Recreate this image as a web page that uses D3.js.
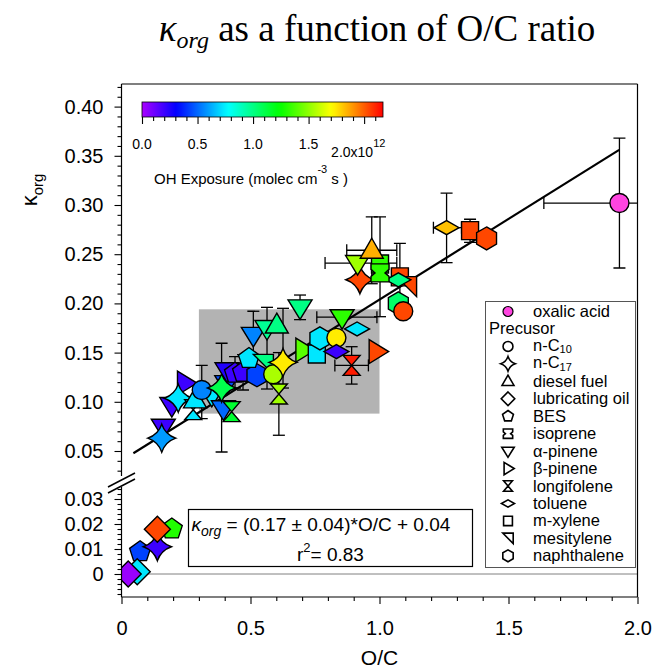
<!DOCTYPE html>
<html>
<head>
<meta charset="utf-8">
<script src="https://cdn.jsdelivr.net/npm/d3@7/dist/d3.min.js"></script>
<style>
html,body{margin:0;padding:0;background:#fff;}
svg{display:block;}
text{font-family:"Liberation Sans",Arial,sans-serif;fill:#000;}
</style>
</head>
<body>
<svg id="chart" width="658" height="670"></svg>
<script>
// ---------------- data ----------------
const precursorNames = ["n-C10","n-C17","diesel fuel","lubricating oil","BES","isoprene",
  "α-pinene","β-pinene","longifolene","toluene","m-xylene","mesitylene","naphthalene"];

// points, in drawing order
const pointPrecursor = [
  "BES","BES","n-C17","lubricating oil","lubricating oil","lubricating oil",
  "α-pinene","n-C17","α-pinene","β-pinene","n-C17","longifolene","diesel fuel","α-pinene",
  "n-C10","α-pinene","longifolene","α-pinene","n-C17","α-pinene","BES","BES","naphthalene",
  "BES","mesitylene","n-C10","longifolene","n-C17","α-pinene","α-pinene","diesel fuel",
  "α-pinene","β-pinene","m-xylene","naphthalene","n-C10","toluene","toluene","α-pinene",
  "β-pinene","longifolene","naphthalene","n-C10","m-xylene","mesitylene","toluene","n-C17",
  "m-xylene","isoprene","α-pinene","diesel fuel","toluene","m-xylene","naphthalene"];
const pointOC = [
  0.195,0.072,0.139,0.139,0.061,0.026,
  0.162,0.156,0.195,0.246,0.220,0.278,0.285,0.350,
  0.311,0.395,0.427,0.408,0.388,0.409,0.440,0.471,0.525,
  0.494,0.550,0.588,0.610,0.626,0.511,0.564,0.602,
  0.692,0.705,0.757,0.769,0.833,0.833,0.913,0.855,
  0.989,0.892,1.073,1.092,1.079,1.105,1.073,0.924,
  1.002,1.002,0.915,0.970,1.260,1.351,1.415];
const pointKappa = [
  0.018,0.0089,0.0109,0.0179,0.0009,0.0,
  0.0747,0.063,0.0967,0.119,0.1036,0.092,0.102,0.107,
  0.112,0.0934,0.090,0.119,0.114,0.132,0.129,0.130,0.127,
  0.144,0.138,0.128,0.108,0.140,0.168,0.175,0.178,
  0.196,0.1526,0.1486,0.1645,0.165,0.151,0.174,0.186,
  0.151,0.137,0.200,0.192,0.227,0.217,0.224,0.224,
  0.240,0.231,0.241,0.254,0.277,0.274,0.266];
// OH exposure (x 1e12 molec cm-3 s)
const pointOH = [
  1.30,0.43,0.20,2.04,0.73,0.03,
  0.20,0.59,0.20,0.20,0.73,0.73,0.73,0.73,
  0.55,0.50,1.15,0.45,1.10,0.25,0.20,0.20,0.43,
  0.73,1.00,1.55,1.53,1.74,0.55,0.97,1.00,
  1.00,1.40,0.73,0.73,1.74,0.20,0.73,1.32,
  2.04,2.12,1.05,2.04,2.04,2.04,1.00,2.04,
  1.32,1.32,1.53,1.85,1.82,2.04,2.04];
const N = null;
const kappaErrLow = [
  N,N,N,N,N,N,
  N,N,N,N,N,N,N,N,
  0.083,N,N,N,0.049,N,0.114,0.112,N,
  N,N,N,0.066,0.114,0.144,0.113,N,
  0.1835,N,N,N,N,N,N,N,
  N,0.118,N,N,0.193,N,N,N,
  0.1865,N,N,0.220,0.2414,0.262,N];
const kappaErrHigh = [
  N,N,N,N,N,N,
  N,N,N,N,N,N,N,N,
  0.137,N,N,N,0.1595,N,0.146,0.148,N,
  N,N,N,0.150,0.195,0.192,0.196,N,
  0.2085,N,N,N,N,N,N,N,
  N,0.156,N,N,0.261,N,N,N,
  0.288,N,N,0.288,0.312,0.2855,N];
const ocErrLow = [
  N,N,N,N,N,N,
  N,N,N,N,N,N,N,N,
  N,N,N,N,N,N,N,N,N,
  N,N,N,N,N,N,N,N,
  N,N,N,N,N,N,N,0.757,
  N,0.827,N,N,N,N,N,N,
  N,N,0.789,0.873,1.209,N,N];
const ocErrHigh = [
  N,N,N,N,N,N,
  N,N,N,N,N,N,N,N,
  N,N,N,N,N,N,N,N,N,
  N,N,N,N,N,N,N,N,
  N,N,N,N,N,N,N,0.990,
  N,0.957,N,N,N,N,N,N,
  N,N,1.067,1.067,1.318,N,N];

// oxalic acid
const oxalicOC = [1.930];
const oxalicKappa = [0.302];
const oxalicKappaErr = [[0.236, 0.368]];
const oxalicOCErr = [[1.637, 2.223]];

// regression line end points
const fitOC = [0.046, 1.929];
const fitKappa = [0.0477, 0.356];

// shaded region
const boxOC = [0.3, 1.0];
const boxKappa = [0.088, 0.194];

// axes ticks
const xTicks = [0, 0.5, 1.0, 1.5, 2.0];
const xTickLabels = ["0","0.5","1.0","1.5","2.0"];
const yUpperTicks = [0.05,0.10,0.15,0.20,0.25,0.30,0.35,0.40];
const yUpperLabels = ["0.05","0.10","0.15","0.20","0.25","0.30","0.35","0.40"];
const yLowerTicks = [0, 0.01, 0.02, 0.03];
const yLowerLabels = ["0","0.01","0.02","0.03"];
const cbTicks = [0, 0.5, 1.0, 1.5, 2.0];
const cbTickLabels = ["0.0","0.5","1.0","1.5","2.0x10"];
const cbMax = 2.17;

// ---------------- drawing ----------------
const svg = d3.select("#chart");
const x = d3.scaleLinear().domain([0, 2]).range([121.5, 637.5]);
const yUp = d3.scaleLinear().domain([0.05, 0.40]).range([451, 106.6]);
const yLo = d3.scaleLinear().domain([0, 0.03]).range([574, 499]);
const y = k => (k >= 0.04 ? yUp(k) : yLo(k));
const frame = {l: 121.5, r: 637.5, t: 84, b: 597};

const colorOf = v => d3.hsl(280 * (1 - Math.min(1, Math.max(0, v / cbMax))), 1, 0.5).formatHex();

function poly(pts, s) {
  return "M" + pts.map(p => (p[0]*s).toFixed(2) + "," + (p[1]*s).toFixed(2)).join("L") + "Z";
}
function regPoly(n, r, rot) {
  return d3.range(n).map(i => {
    const a = rot + i * 2 * Math.PI / n;
    return [r * Math.cos(a), r * Math.sin(a)];
  });
}
function markerPath(name, s) {
  switch (name) {
    case "n-C10": { const r = 9.5*s; return `M${-r},0A${r},${r} 0 1,0 ${r},0A${r},${r} 0 1,0 ${-r},0Z`; }
    case "n-C17": { const R = 14*s, c = 3.6*s;
      return `M0,${-R}Q${c},${-c} ${R},0Q${c},${c} 0,${R}Q${-c},${c} ${-R},0Q${-c},${-c} 0,${-R}Z`; }
    case "diesel fuel": return poly([[0,-12],[11.5,8],[-11.5,8]], s);
    case "lubricating oil": return poly([[0,-13],[13,0],[0,13],[-13,0]], s);
    case "BES": return poly(regPoly(5, 11, -Math.PI/2), s);
    case "isoprene": return poly([[-9,-9],[9,-9],[9,-3.5],[5,0],[9,3.5],[9,9],[-9,9],[-9,3.5],[-5,0],[-9,-3.5]], s);
    case "α-pinene": return poly([[-12,-7.5],[12,-7.5],[0,12]], s);
    case "β-pinene": return poly([[-7.5,-12],[12,0],[-7.5,12]], s);
    case "longifolene": return poly([[-8.5,-10],[8.5,-10],[0,0],[8.5,10],[-8.5,10],[0,0]], s);
    case "toluene": return poly([[-12.5,0],[0,-7],[12.5,0],[0,7]], s);
    case "m-xylene": return poly([[-8.5,-9],[8.5,-9],[8.5,9],[-8.5,9]], s);
    case "mesitylene": return poly([[-10,-10],[10,-10],[10,10]], s);
    case "naphthalene": return poly(regPoly(6, 11.5, -Math.PI/2), s);
  }
  return "";
}

// title
const title = svg.append("text").attr("x", 377).attr("y", 41).attr("text-anchor", "middle")
  .style("font-family", '"Liberation Serif","Times New Roman",serif').style("font-size", "37px");
title.append("tspan").style("font-style", "italic").text("κ");
title.append("tspan").style("font-style", "italic").style("font-size", "24px").attr("dy", 7).text("org");
title.append("tspan").attr("dy", -7).text(" as a function of O/C ratio");

// clip
svg.append("defs").append("clipPath").attr("id", "plotclip").append("rect")
  .attr("x", frame.l).attr("y", frame.t).attr("width", frame.r - frame.l).attr("height", frame.b - frame.t);
const plot = svg.append("g").attr("clip-path", "url(#plotclip)");

// shaded box
plot.append("rect")
  .attr("x", x(boxOC[0])).attr("y", y(boxKappa[1]))
  .attr("width", x(boxOC[1]) - x(boxOC[0])).attr("height", y(boxKappa[0]) - y(boxKappa[1]))
  .attr("fill", "#b3b3b3");

// zero line
plot.append("line").attr("x1", frame.l).attr("x2", frame.r).attr("y1", y(0)).attr("y2", y(0))
  .attr("stroke", "#808080").attr("stroke-width", 1);

// fit line
plot.append("line")
  .attr("x1", x(fitOC[0])).attr("y1", y(fitKappa[0]))
  .attr("x2", x(fitOC[1])).attr("y2", y(fitKappa[1]))
  .attr("stroke", "#000").attr("stroke-width", 2.2);

// error bars
const eb = plot.append("g").attr("stroke", "#000").attr("stroke-width", 1.3).attr("fill", "none");
const cap = 6;
function vErr(ox, lo, hi) {
  const px = x(ox);
  eb.append("line").attr("x1", px).attr("x2", px).attr("y1", y(lo)).attr("y2", y(hi));
  [lo, hi].forEach(v => eb.append("line").attr("x1", px - cap).attr("x2", px + cap).attr("y1", y(v)).attr("y2", y(v)));
}
function hErr(ky, lo, hi) {
  const py = y(ky);
  eb.append("line").attr("x1", x(lo)).attr("x2", x(hi)).attr("y1", py).attr("y2", py);
  [lo, hi].forEach(v => eb.append("line").attr("x1", x(v)).attr("x2", x(v)).attr("y1", py - cap).attr("y2", py + cap));
}
pointOC.forEach((oc, i) => {
  if (kappaErrLow[i] !== null) vErr(oc, kappaErrLow[i], kappaErrHigh[i]);
  if (ocErrLow[i] !== null) hErr(pointKappa[i], ocErrLow[i], ocErrHigh[i]);
});
vErr(oxalicOC[0], oxalicKappaErr[0][0], oxalicKappaErr[0][1]);
hErr(oxalicKappa[0], oxalicOCErr[0][0], oxalicOCErr[0][1]);

// markers
plot.append("g").selectAll("path").data(pointOC).join("path")
  .attr("d", (d, i) => markerPath(pointPrecursor[i], 1))
  .attr("transform", (d, i) => `translate(${x(d)},${y(pointKappa[i])})`)
  .attr("fill", (d, i) => colorOf(pointOH[i]))
  .attr("stroke", "#000").attr("stroke-width", 1.4).attr("stroke-linejoin", "miter");

plot.append("circle").attr("cx", x(oxalicOC[0])).attr("cy", y(oxalicKappa[0])).attr("r", 9.5)
  .attr("fill", "#ff44e0").attr("stroke", "#000").attr("stroke-width", 1.4);

// frame
const fr = svg.append("g").attr("stroke", "#000").attr("stroke-width", 1.2);
fr.append("line").attr("x1", frame.l).attr("x2", frame.r).attr("y1", frame.t).attr("y2", frame.t);
fr.append("line").attr("x1", frame.r).attr("x2", frame.r).attr("y1", frame.t).attr("y2", frame.b);
fr.append("line").attr("x1", frame.l).attr("x2", frame.r).attr("y1", frame.b).attr("y2", frame.b);
fr.append("line").attr("x1", frame.l).attr("x2", frame.l).attr("y1", frame.t).attr("y2", 476);
fr.append("line").attr("x1", frame.l).attr("x2", frame.l).attr("y1", 487).attr("y2", frame.b);
// axis break marks
fr.append("line").attr("x1", 108).attr("y1", 493).attr("x2", 135).attr("y2", 479).attr("stroke-width", 1.5);
fr.append("line").attr("x1", 108).attr("y1", 487).attr("x2", 135).attr("y2", 473).attr("stroke-width", 1.5);

function styleAxis(g, fs) {
  g.select(".domain").remove();
  g.selectAll("line").attr("stroke", "#000").attr("stroke-width", 1.1);
  g.selectAll("text").style("font-size", fs + "px").style("font-family", '"Liberation Sans",Arial,sans-serif');
}

// x axis
const xMajor = svg.append("g").attr("transform", `translate(0,${frame.b})`)
  .call(d3.axisBottom(x).tickValues(xTicks).tickSize(7).tickPadding(17)
    .tickFormat((d, i) => xTickLabels[i]));
styleAxis(xMajor, 20);
const xMinor = svg.append("g").attr("transform", `translate(0,${frame.b})`)
  .call(d3.axisBottom(x).tickValues(d3.range(0.1, 2.0, 0.1).filter(v => Math.abs(v*2 - Math.round(v*2)) > 1e-6)).tickSize(4).tickFormat(""));
styleAxis(xMinor, 10);

// y axis upper
const yUMajor = svg.append("g").attr("transform", `translate(${frame.l},0)`)
  .call(d3.axisLeft(yUp).tickValues(yUpperTicks).tickSize(7).tickPadding(11)
    .tickFormat((d, i) => yUpperLabels[i]));
styleAxis(yUMajor, 20);
const yUMinor = svg.append("g").attr("transform", `translate(${frame.l},0)`)
  .call(d3.axisLeft(yUp).tickValues(d3.range(3, 43).map(v => v / 100).filter(v => Math.round(v*100) % 5 !== 0)).tickSize(4).tickFormat(""));
styleAxis(yUMinor, 10);

// y axis lower
const yLMajor = svg.append("g").attr("transform", `translate(${frame.l},0)`)
  .call(d3.axisLeft(yLo).tickValues(yLowerTicks).tickSize(7).tickPadding(11)
    .tickFormat((d, i) => yLowerLabels[i]));
styleAxis(yLMajor, 20);
const yLMinor = svg.append("g").attr("transform", `translate(${frame.l},0)`)
  .call(d3.axisLeft(yLo).tickValues(d3.range(-4, 18).map(v => v / 500).filter(v => Math.round(v*500) % 5 !== 0)).tickSize(4).tickFormat(""));
styleAxis(yLMinor, 10);

// axis titles
svg.append("text").attr("x", x(1.0)).attr("y", 665).attr("text-anchor", "middle")
  .style("font-size", "21px").text("O/C");
const yl = svg.append("text").attr("transform", "translate(37,190) rotate(-90)").attr("text-anchor", "middle")
  .style("font-size", "22px");
yl.append("tspan").text("κ");
yl.append("tspan").attr("dy", 6).style("font-size", "15px").text("org");

// colorbar
const cbX = d3.scaleLinear().domain([0, cbMax]).range([142, 383]);
const grad = svg.select("defs").append("linearGradient").attr("id", "cbgrad")
  .attr("x1", "0%").attr("x2", "100%").attr("y1", "0%").attr("y2", "0%");
d3.range(0, 1.0001, 0.02).forEach(f => grad.append("stop").attr("offset", (f * 100) + "%").attr("stop-color", colorOf(f * cbMax)));
svg.append("rect").attr("x", cbX(0)).attr("y", 102).attr("width", cbX(cbMax) - cbX(0)).attr("height", 15)
  .attr("fill", "url(#cbgrad)").attr("stroke", "#000").attr("stroke-width", 0.8);
const cbMaj = svg.append("g").attr("transform", "translate(0,117)")
  .call(d3.axisBottom(cbX).tickValues(cbTicks).tickSize(7).tickFormat(""));
styleAxis(cbMaj, 10);
const cbMin = svg.append("g").attr("transform", "translate(0,117)")
  .call(d3.axisBottom(cbX).tickValues(d3.range(1, 22).map(v => v / 10).filter(v => Math.round(v*10) % 5 !== 0)).tickSize(4).tickFormat(""));
styleAxis(cbMin, 10);
cbTicks.forEach((t, i) => {
  if (i < cbTicks.length - 1) {
    svg.append("text").attr("x", cbX(t)).attr("y", 148.5).attr("text-anchor", "middle")
      .style("font-size", "14px").text(cbTickLabels[i]);
  } else {
    const tt = svg.append("text").attr("x", cbX(t) - 33).attr("y", 156.5).style("font-size", "14px");
    tt.append("tspan").text(cbTickLabels[i]);
    tt.append("tspan").attr("dy", -10).style("font-size", "11px").text("12");
  }
});
const cbt = svg.append("text").attr("x", 154).attr("y", 183.5).style("font-size", "15px");
cbt.append("tspan").text("OH Exposure (molec cm");
cbt.append("tspan").attr("dy", -11).style("font-size", "11px").text("-3");
cbt.append("tspan").attr("dy", 11).text(" s )");

// equation box
svg.append("rect").attr("x", 188.5).attr("y", 509.5).attr("width", 284).attr("height", 57)
  .attr("fill", "#fff").attr("stroke", "#000").attr("stroke-width", 1.2);
const eq = svg.append("text").attr("x", 191.5).attr("y", 530.5).style("font-size", "19px");
eq.append("tspan").style("font-style", "italic").text("κ");
eq.append("tspan").style("font-style", "italic").style("font-size", "14px").attr("dy", 5).text("org");
eq.append("tspan").attr("dy", -5).text(" = (0.17 ± 0.04)*O/C + 0.04");
const r2 = svg.append("text").attr("x", 297).attr("y", 560.5).style("font-size", "19px");
r2.append("tspan").text("r");
r2.append("tspan").attr("dy", -9).style("font-size", "13px").text("2");
r2.append("tspan").attr("dy", 9).text("= 0.83");

// legend
const lg = svg.append("g");
lg.append("rect").attr("x", 485.5).attr("y", 301.5).attr("width", 150).attr("height", 266)
  .attr("fill", "#fff").attr("stroke", "#555").attr("stroke-width", 1);
const rowY = i => 311.5 + i * 17.45;
lg.append("circle").attr("cx", 508).attr("cy", rowY(0)).attr("r", 5)
  .attr("fill", "#ff44e0").attr("stroke", "#000").attr("stroke-width", 1.2);
lg.append("text").attr("x", 533).attr("y", rowY(0) + 5.5).style("font-size", "16.5px").text("oxalic acid");
lg.append("text").attr("x", 489).attr("y", rowY(1) + 5.5).style("font-size", "16.5px").text("Precusor");
precursorNames.forEach((nm, i) => {
  const ry = rowY(i + 2);
  lg.append("path").attr("d", markerPath(nm, 0.52)).attr("transform", `translate(508,${ry})`)
    .attr("fill", "#fff").attr("stroke", "#000").attr("stroke-width", 1.6);
  const t = lg.append("text").attr("x", 533).attr("y", ry + 4.5).style("font-size", "16.5px");
  if (nm === "n-C10" || nm === "n-C17") {
    t.append("tspan").text("n-C");
    t.append("tspan").attr("dy", 2.5).style("font-size", "11px").text(nm.slice(3));
  } else {
    t.attr("y", ry + 5.5).text(nm);
  }
});
</script>
</body>
</html>
